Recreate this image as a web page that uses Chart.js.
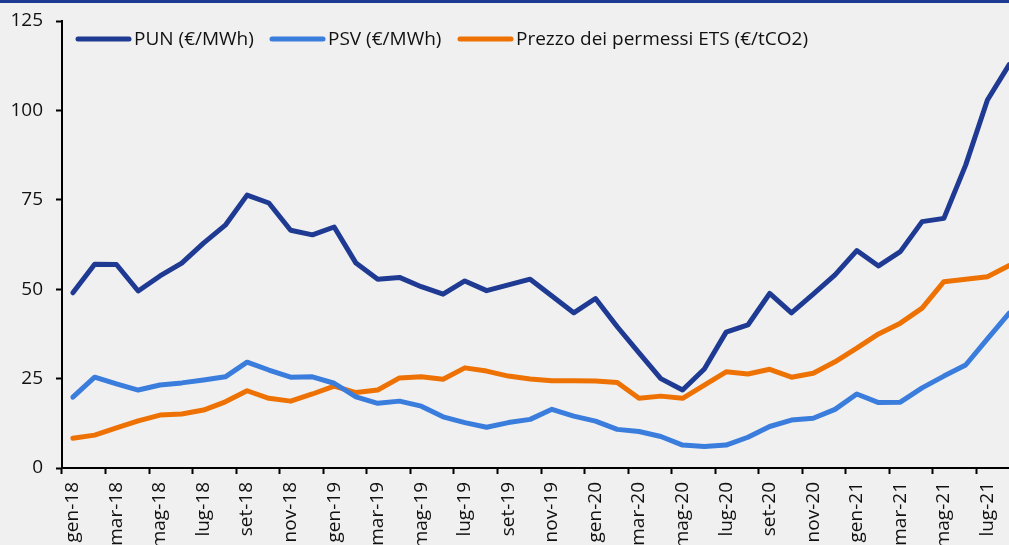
<!DOCTYPE html>
<html>
<head>
<meta charset="utf-8">
<script src="https://cdn.jsdelivr.net/npm/chart.js@4.4.0/dist/chart.umd.min.js"></script>
<style>
  html, body { margin: 0; padding: 0; background: #f0f0f0; overflow: hidden; }
  #topbar { position: absolute; left: 0; top: 0; width: 100%; height: 3px; background: #1f3a93; z-index: 2; }
</style>
</head>
<body>
<div id="topbar"></div>
<canvas id="chart" width="1040" height="545"></canvas>
<script>
// Data (monthly, gen-18 .. ago-21)
const months = [
  "gen-18", "feb-18", "mar-18", "apr-18", "mag-18", "giu-18", "lug-18", "ago-18", "set-18", "ott-18", "nov-18", "dic-18",
  "gen-19", "feb-19", "mar-19", "apr-19", "mag-19", "giu-19", "lug-19", "ago-19", "set-19", "ott-19", "nov-19", "dic-19",
  "gen-20", "feb-20", "mar-20", "apr-20", "mag-20", "giu-20", "lug-20", "ago-20", "set-20", "ott-20", "nov-20", "dic-20",
  "gen-21", "feb-21", "mar-21", "apr-21", "mag-21", "giu-21", "lug-21", "ago-21"
];
const pun = [
  49.0, 57.0, 56.9, 49.5, 53.7, 57.3, 62.9, 67.9, 76.3, 74.1, 66.5, 65.2,
  67.4, 57.3, 52.8, 53.3, 50.7, 48.6, 52.3, 49.6, 51.2, 52.8, 48.1, 43.4,
  47.4, 39.5, 32.2, 25.0, 21.8, 27.7, 38.0, 40.0, 48.8, 43.4, 48.6, 54.0,
  60.8, 56.5, 60.5, 68.9, 69.8, 84.7, 102.9, 112.8
];
const psv = [
  19.8, 25.4, 23.5, 21.8, 23.2, 23.8, 24.6, 25.5, 29.6, 27.4, 25.4, 25.5,
  23.7, 19.9, 18.1, 18.7, 17.3, 14.3, 12.7, 11.4, 12.7, 13.6, 16.4, 14.5,
  13.1, 10.8, 10.2, 8.8, 6.4, 6.0, 6.4, 8.6, 11.6, 13.4, 13.9, 16.4,
  20.7, 18.3, 18.4, 22.4, 25.7, 28.8, 36.1, 43.3
];
const ets = [
  8.3, 9.2, 11.2, 13.2, 14.8, 15.1, 16.2, 18.5, 21.6, 19.5, 18.7, 20.7,
  22.9, 21.1, 21.8, 25.2, 25.5, 24.8, 28.0, 27.1, 25.7, 24.9, 24.4, 24.4,
  24.3, 23.9, 19.5, 20.1, 19.5, 23.2, 26.9, 26.3, 27.6, 25.4, 26.5, 29.7,
  33.5, 37.5, 40.5, 44.7, 52.1, 52.8, 53.5, 56.6
];
const seriesNames = ["PUN (€/MWh)", "PSV (€/MWh)", "Prezzo dei permessi ETS (€/tCO2)"];
const seriesColors = ["#1f3a93", "#3a7ddd", "#ee7203"];

const FONT = { family: "'Open Sans', sans-serif", size: 19 };

// Legend drawn inside the plot, one row
const legendX = [76, 270, 458];
const insideLegend = {
  id: "insideLegend",
  afterDraw(chart) {
    const ctx = chart.ctx;
    const y = 39;
    ctx.save();
    ctx.font = `${FONT.size}px ${FONT.family}`;
    ctx.textBaseline = "middle";
    chart.data.datasets.forEach((ds, i) => {
      const x = legendX[i];
      ctx.strokeStyle = ds.borderColor;
      ctx.lineWidth = 5;
      ctx.lineCap = "round";
      ctx.beginPath();
      ctx.moveTo(x + 2, y);
      ctx.lineTo(x + 53, y);
      ctx.stroke();
      ctx.fillStyle = "#111";
      ctx.fillText(ds.label, x + 58, y + 1);
    });
    ctx.restore();
  }
};

const ctx = document.getElementById("chart").getContext("2d");
new Chart(ctx, {
  type: "line",
  data: {
    labels: months,
    datasets: [pun, psv, ets].map((d, i) => ({
      label: seriesNames[i],
      data: d,
      borderColor: seriesColors[i],
      borderWidth: 5,
      pointRadius: 0,
      tension: 0,
      borderJoinStyle: "round",
      borderCapStyle: "round"
    }))
  },
  options: {
    responsive: false,
    animation: false,
    layout: { padding: { top: 21, right: 0, left: 0, bottom: 0 } },
    plugins: { legend: { display: false }, tooltip: { enabled: false } },
    scales: {
      x: {
        offset: true,
        border: { color: "#000", width: 2 },
        grid: {
          offset: true,
          drawOnChartArea: false,
          tickLength: 6,
          tickWidth: 2,
          tickColor: (c) => (c.index % 2 === 0 ? "#000" : "rgba(0,0,0,0)")
        },
        ticks: {
          autoSkip: false,
          minRotation: 90,
          maxRotation: 90,
          padding: 8,
          color: "#111",
          font: FONT,
          callback: (v, i) => (i % 2 === 0 ? months[i] : "")
        },
        afterFit: (s) => { s.height = 77; }
      },
      y: {
        min: 0,
        max: 125,
        border: { color: "#000", width: 2 },
        grid: { drawOnChartArea: false, tickLength: 6, tickWidth: 2, tickColor: "#000" },
        ticks: { stepSize: 25, padding: 13, color: "#111", font: FONT },
        afterFit: (s) => { s.width = 62; s.paddingTop = 0; s.paddingBottom = 0; }
      }
    }
  },
  plugins: [insideLegend]
});
</script>
</body>
</html>
